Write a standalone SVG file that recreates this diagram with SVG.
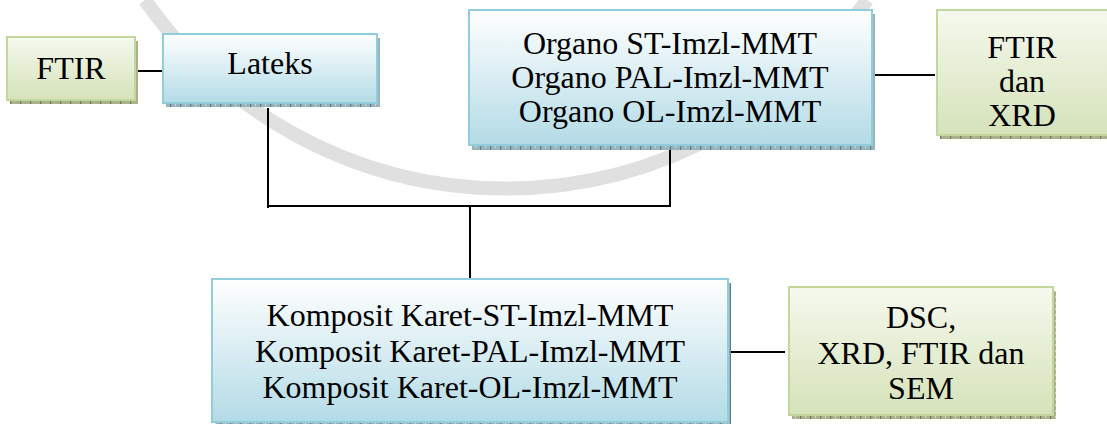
<svg xmlns="http://www.w3.org/2000/svg" width="1107" height="424" viewBox="0 0 1107 424">
<defs>
<linearGradient id="gBlue" x1="0" y1="0" x2="0" y2="1">
<stop offset="0" stop-color="#ffffff"/>
<stop offset="1" stop-color="#b3dbe6"/>
</linearGradient>
<linearGradient id="gGreen" x1="0" y1="0" x2="0" y2="1">
<stop offset="0" stop-color="#f6f9ee"/>
<stop offset="1" stop-color="#d5e2b9"/>
</linearGradient>
<pattern id="pBlue" width="10" height="6" patternUnits="userSpaceOnUse">
<rect width="10" height="6" fill="#97b3bc"/>
<rect width="1.2" height="6" fill="#5c7e89"/>
<rect x="5" y="2" width="1" height="2" fill="#c4d6dc"/>
</pattern>
<pattern id="pGreen" width="10" height="6" patternUnits="userSpaceOnUse">
<rect width="10" height="6" fill="#a9b28c"/>
<rect width="1.2" height="6" fill="#6f7a52"/>
<rect x="5" y="2" width="1" height="2" fill="#d3d9bf"/>
</pattern>
<style>
.blue{fill:url(#gBlue);stroke:#92cddc;stroke-width:2}
.green{fill:url(#gGreen);stroke:#c3d69b;stroke-width:2}
.shB{fill:url(#pBlue)}
.shG{fill:url(#pGreen)}
.t{font-family:"Liberation Serif",serif;font-size:32px;fill:#000;text-anchor:middle}
.c{stroke:#000;stroke-width:2;fill:none}
.wm{stroke:#e0e0e0;stroke-width:14;fill:none}
</style>
</defs>
<rect width="1107" height="424" fill="#ffffff"/>
<g id="watermark">
<path class="wm" d="M 145 0 A 440 440 0 0 0 867 0"/>
</g>
<g id="connectors">
<line class="c" x1="135" y1="71" x2="163" y2="71"/>
<line class="c" x1="875" y1="75" x2="935" y2="75"/>
<line class="c" x1="268" y1="108" x2="268" y2="208"/>
<line class="c" x1="267" y1="206" x2="671" y2="206"/>
<line class="c" x1="670" y1="150" x2="670" y2="206"/>
<line class="c" x1="470" y1="206" x2="470" y2="278"/>
<line class="c" x1="731" y1="352" x2="785" y2="352"/>
</g>
<g id="node-ftir">
<rect class="shG" x="10" y="41" width="128" height="63"/>
<rect class="green" x="7" y="37" width="128" height="63"/>
<text class="t" x="71" y="79">FTIR</text>
</g>
<g id="node-lateks">
<rect class="shB" x="166" y="38" width="214" height="69"/>
<rect class="blue" x="163" y="34" width="214" height="69"/>
<text class="t" x="270" y="74">Lateks</text>
</g>
<g id="node-organo">
<rect class="shB" x="472" y="14" width="403" height="136"/>
<rect class="blue" x="469" y="10" width="403" height="135"/>
<text class="t" x="670" y="54">Organo ST-Imzl-MMT</text>
<text class="t" x="670" y="88">Organo PAL-Imzl-MMT</text>
<text class="t" x="670" y="122">Organo OL-Imzl-MMT</text>
</g>
<g id="node-ftir-xrd">
<rect class="shG" x="940" y="14" width="175" height="125"/>
<rect class="green" x="937" y="10" width="175" height="125"/>
<text class="t" x="1022" y="58">FTIR</text>
<text class="t" x="1022" y="92">dan</text>
<text class="t" x="1022" y="126">XRD</text>
</g>
<g id="node-komposit">
<rect class="shB" x="215" y="283" width="516" height="145"/>
<rect class="blue" x="212" y="279" width="516" height="143"/>
<text class="t" x="470" y="326">Komposit Karet-ST-Imzl-MMT</text>
<text class="t" x="470" y="362">Komposit Karet-PAL-Imzl-MMT</text>
<text class="t" x="470" y="398">Komposit Karet-OL-Imzl-MMT</text>
</g>
<g id="node-dsc">
<rect class="shG" x="792" y="291" width="264" height="128"/>
<rect class="green" x="789" y="287" width="264" height="128"/>
<text class="t" x="921" y="328">DSC,</text>
<text class="t" x="921" y="364">XRD, FTIR dan</text>
<text class="t" x="921" y="399">SEM</text>
</g>
</svg>
